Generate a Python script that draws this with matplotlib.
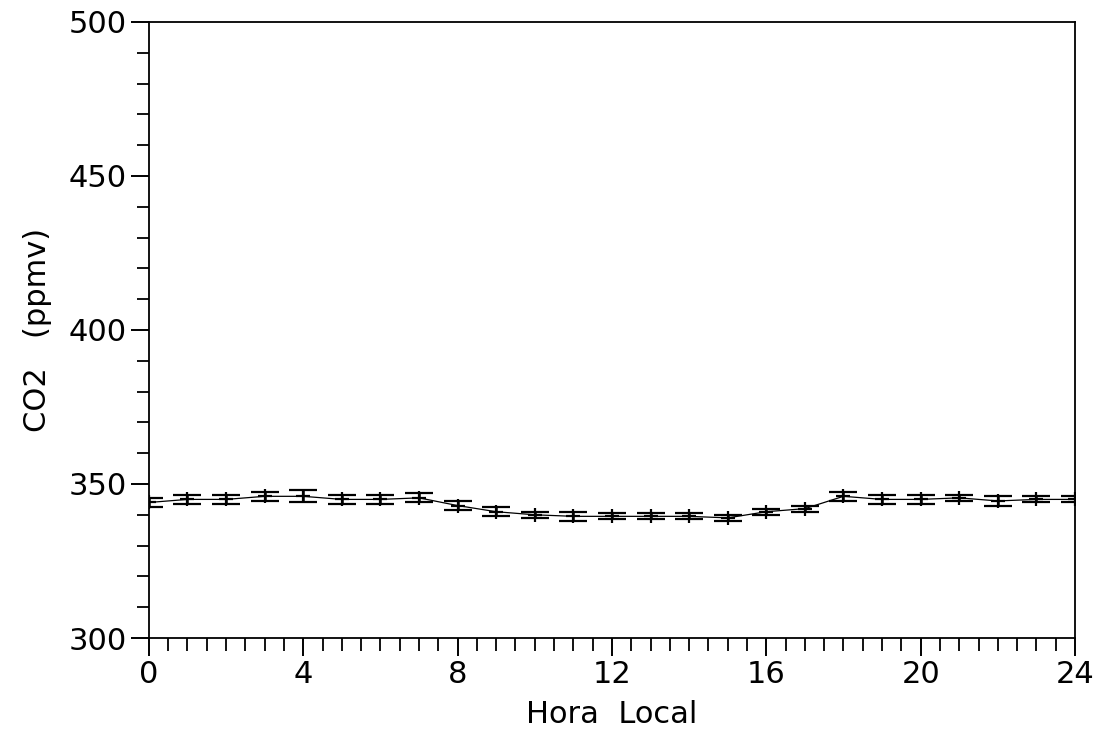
import matplotlib
matplotlib.use("Agg")
import matplotlib.pyplot as plt
from matplotlib.ticker import MultipleLocator

# hourly mean CO2 (ppmv)
hours = [0, 1, 2, 3, 4, 5, 6, 7, 8, 9, 10, 11, 12,
         13, 14, 15, 16, 17, 18, 19, 20, 21, 22, 23, 24]
co2 = [344.0, 345.0, 345.0, 346.0, 346.0, 345.0, 345.0, 345.5, 343.0,
       341.0, 340.0, 339.5, 339.5, 339.5, 339.5, 339.0, 341.0, 342.0,
       346.0, 345.0, 345.0, 345.5, 344.5, 345.0, 345.0]
co2_err = [1.5, 1.5, 1.5, 1.5, 2.0, 1.5, 1.5, 1.5, 1.5,
           1.5, 1.0, 1.5, 1.0, 1.0, 1.0, 1.0, 1.0, 1.0,
           1.5, 1.5, 1.5, 1.0, 1.5, 1.0, 1.0]

plt.rcParams["font.family"] = ["DejaVu Sans"]

fig = plt.figure(figsize=(11.03, 7.32), dpi=100)
ax = fig.add_axes([0.135, 0.1284, 0.8396, 0.8416])

ax.errorbar(hours, co2, yerr=co2_err, color="black", linewidth=0.9,
            elinewidth=1.8, capsize=10, capthick=1.6,
            marker="+", markersize=10, markeredgewidth=1.6)

ax.set_xlim(0, 24)
ax.set_ylim(300, 500)
ax.xaxis.set_major_locator(MultipleLocator(4))
ax.xaxis.set_minor_locator(MultipleLocator(0.5))
ax.yaxis.set_major_locator(MultipleLocator(50))
ax.yaxis.set_minor_locator(MultipleLocator(10))

ax.tick_params(which="major", direction="out", length=13, width=1.4,
               labelsize=22, pad=3)
ax.tick_params(which="minor", direction="out", length=9, width=1.3)
for s in ax.spines.values():
    s.set_linewidth(1.3)

ax.set_xlabel("Hora  Local", fontsize=22, labelpad=8)
ax.set_ylabel("CO2   (ppmv)", fontsize=22, labelpad=12)

fig.savefig("out.png", dpi=100)
